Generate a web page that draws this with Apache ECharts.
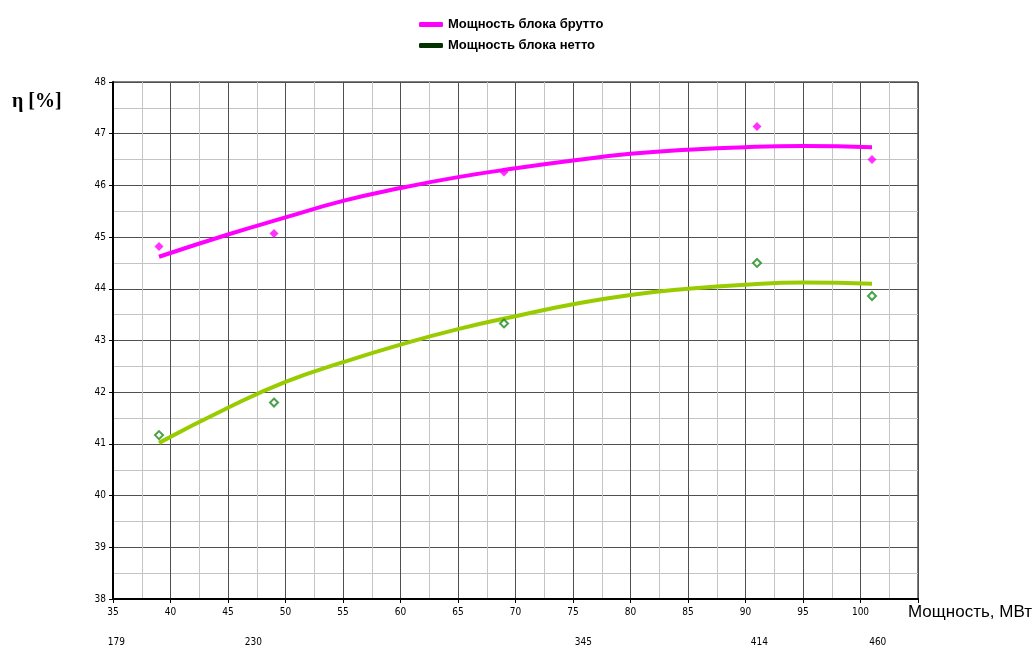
<!DOCTYPE html>
<html>
<head>
<meta charset="utf-8">
<script src="https://cdn.jsdelivr.net/npm/echarts@6/dist/echarts.min.js"></script>
<style>
html, body { margin: 0; padding: 0; background: #fff; }
#main { width: 1036px; height: 648px; }
</style>
</head>
<body>
<div id="main"></div>
<script>
// measured points
var pointX = [39, 49, 69, 91, 101];
var bruttoPoints = [44.82, 45.07, 46.26, 47.14, 46.5];
var nettoPoints = [41.17, 41.8, 43.33, 44.5, 43.86];

// trend lines
var trendX = [39, 45, 50, 55, 60, 65, 70, 75, 80, 85, 90, 95, 101];
var bruttoTrend = [44.62, 45.05, 45.38, 45.7, 45.95, 46.16, 46.33, 46.48, 46.61, 46.69, 46.74, 46.76, 46.74];
var nettoTrend = [41.02, 41.7, 42.2, 42.58, 42.92, 43.22, 43.47, 43.7, 43.88, 44.0, 44.08, 44.12, 44.1];

// second row of x labels (gross MW)
var grossPos = [35.3, 47.2, 75.9, 91.2, 101.5];
var grossLabels = ['179', '230', '345', '414', '460'];

var legendNames = ['Мощность блока брутто', 'Мощность блока нетто'];

function pairs(xs, ys) {
    return xs.map(function (x, i) { return [x, ys[i]]; });
}

var tickFont = { fontFamily: 'DejaVu Sans Condensed, DejaVu Sans, sans-serif', fontSize: 10, color: '#000' };

var chart = echarts.init(document.getElementById('main'));

var option = {
    animation: false,
    legend: {
        orient: 'vertical',
        left: 414,
        top: 13,
        itemWidth: 24,
        itemHeight: 5,
        itemGap: 8,
        textStyle: {
            fontFamily: 'Liberation Sans Narrow, Arial Narrow, sans-serif',
            fontWeight: 'bold',
            fontSize: 13,
            color: '#000'
        },
        data: [
            { name: legendNames[0], icon: 'roundRect', itemStyle: { color: '#ff00ff' } },
            { name: legendNames[1], icon: 'roundRect', itemStyle: { color: '#003300' } }
        ]
    },
    grid: {
        left: 113,
        right: 118,
        top: 82,
        bottom: 49,
        outerBoundsMode: 'none',
        containLabel: false,
        show: true,
        borderColor: '#000',
        borderWidth: 1
    },
    xAxis: {
        type: 'value',
        min: 35,
        max: 105,
        interval: 5,
        axisLine: { lineStyle: { color: '#000', width: 2 } },
        axisTick: { show: true, length: 4, lineStyle: { color: '#000' } },
        axisLabel: Object.assign({
            margin: 8,
            formatter: function (v) { return v === 105 ? '' : String(v); }
        }, tickFont),
        splitLine: { show: true, lineStyle: { color: '#505050', width: 1 } },
        minorTick: { show: false, splitNumber: 2 },
        minorSplitLine: { show: true, lineStyle: { color: '#c4c4c4', width: 1 } },
        name: 'Мощность, МВт',
        nameLocation: 'end',
        nameGap: -10,
        nameTextStyle: {
            fontFamily: 'Liberation Sans Narrow, Arial Narrow, sans-serif',
            fontSize: 17,
            color: '#000',
            align: 'left',
            verticalAlign: 'top',
            padding: [5, 0, 0, 0]
        }
    },
    yAxis: {
        type: 'value',
        min: 38,
        max: 48,
        interval: 1,
        axisLine: { show: true, lineStyle: { color: '#000', width: 2 } },
        axisTick: { show: true, length: 4, lineStyle: { color: '#000' } },
        axisLabel: Object.assign({ margin: 7 }, tickFont),
        splitLine: { show: true, lineStyle: { color: '#505050', width: 1 } },
        minorTick: { show: false, splitNumber: 2 },
        minorSplitLine: { show: true, lineStyle: { color: '#c4c4c4', width: 1 } }
    },
    series: [
        {
            name: legendNames[0],
            type: 'line',
            smooth: true,
            showSymbol: false,
            data: pairs(trendX, bruttoTrend),
            lineStyle: { color: '#ff00ff', width: 4 },
            itemStyle: { color: '#ff00ff' },
            z: 3
        },
        {
            name: legendNames[1],
            type: 'line',
            smooth: true,
            showSymbol: false,
            data: pairs(trendX, nettoTrend),
            lineStyle: { color: '#99cc00', width: 4 },
            itemStyle: { color: '#99cc00' },
            z: 3
        },
        {
            name: 'брутто точки',
            type: 'scatter',
            symbol: 'diamond',
            symbolSize: 9,
            data: pairs(pointX, bruttoPoints),
            itemStyle: { color: '#ff00ff' },
            z: 4
        },
        {
            name: 'нетто точки',
            type: 'scatter',
            symbol: 'emptyDiamond',
            symbolSize: 8,
            data: pairs(pointX, nettoPoints),
            itemStyle: { color: '#1a8a1a', borderWidth: 1.5 },
            z: 4
        }
    ],
    graphic: [
        {
            type: 'text',
            left: 12,
            top: 92,
            style: {
                text: 'η [%]',
                font: 'bold 20px "Liberation Serif", "Times New Roman", serif',
                fill: '#000'
            }
        }
    ]
};

chart.setOption(option);

// gross MW labels under the axis, placed through the x scale
var extra = grossPos.map(function (v, i) {
    var px = chart.convertToPixel({ xAxisIndex: 0 }, v);
    return {
        type: 'text',
        x: px,
        y: 637,
        style: {
            text: grossLabels[i],
            font: '10px "DejaVu Sans Condensed", "DejaVu Sans", sans-serif',
            fill: '#000',
            align: 'center'
        }
    };
});
chart.setOption({ graphic: option.graphic.concat(extra) });

window.onresize = chart.resize;
</script>
</body>
</html>
